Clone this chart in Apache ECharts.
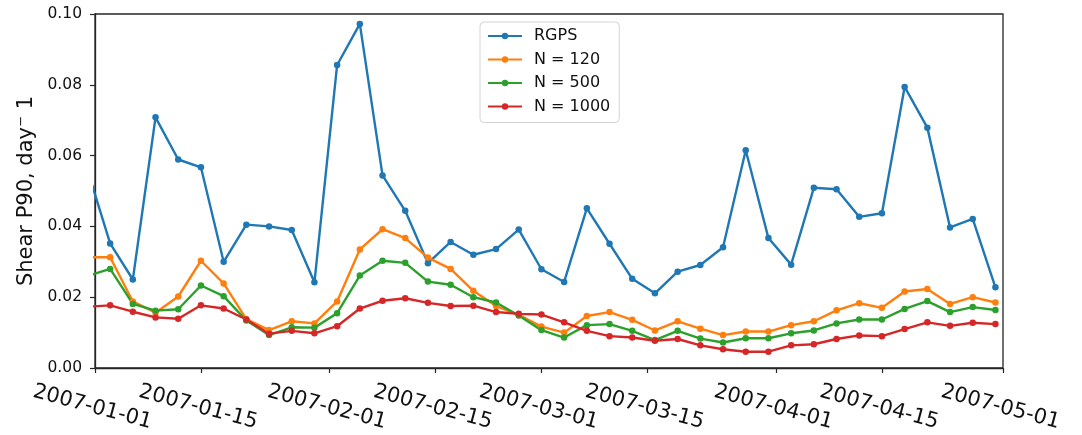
<!DOCTYPE html>
<html>
<head>
<meta charset="utf-8">
<script src="https://cdn.jsdelivr.net/npm/echarts@6/dist/echarts.min.js"></script>
<style>
  html, body { margin: 0; padding: 0; background: #fff; }
  #chart { width: 1082px; height: 435px; }
</style>
</head>
<body>
<div id="chart"></div>
<script>
// sample dates, one every 3 days (the first one falls just left of the frame)
const dates = [
  '2006-12-31', '2007-01-03', '2007-01-06', '2007-01-09', '2007-01-12', '2007-01-15',
  '2007-01-18', '2007-01-21', '2007-01-24', '2007-01-27', '2007-01-30', '2007-02-02',
  '2007-02-05', '2007-02-08', '2007-02-11', '2007-02-14', '2007-02-17', '2007-02-20',
  '2007-02-23', '2007-02-26', '2007-03-01', '2007-03-04', '2007-03-07', '2007-03-10',
  '2007-03-13', '2007-03-16', '2007-03-19', '2007-03-22', '2007-03-25', '2007-03-28',
  '2007-03-31', '2007-04-03', '2007-04-06', '2007-04-09', '2007-04-12', '2007-04-15',
  '2007-04-18', '2007-04-21', '2007-04-24', '2007-04-27', '2007-04-30'
];

const rgps = [
  0.056, 0.0352, 0.0250, 0.0708, 0.0589, 0.0567, 0.0300, 0.0405, 0.0400, 0.0390, 0.0242,
  0.0856, 0.0972, 0.0544, 0.0444, 0.0296, 0.0356, 0.0320, 0.0336, 0.0391, 0.0279,
  0.0243, 0.0451, 0.0351, 0.0252, 0.0211, 0.0272, 0.0291, 0.0341, 0.0615, 0.0367,
  0.0292, 0.0509, 0.0505, 0.0427, 0.0437, 0.0794, 0.0679, 0.0397, 0.0421, 0.0228
];
const n120 = [
  0.0313, 0.0313, 0.0188, 0.0156, 0.0202, 0.0303, 0.0239, 0.0138, 0.0107, 0.0132, 0.0126,
  0.0188, 0.0335, 0.0392, 0.0367, 0.0312, 0.0280, 0.0218, 0.0175, 0.0150, 0.0117,
  0.0100, 0.0147, 0.0158, 0.0136, 0.0106, 0.0132, 0.0111, 0.0093, 0.0103, 0.0103,
  0.0121, 0.0132, 0.0163, 0.0183, 0.0170, 0.0216, 0.0223, 0.0181, 0.0200, 0.0185
];
const n500 = [
  0.0260, 0.0280, 0.0181, 0.0162, 0.0166, 0.0233, 0.0203, 0.0134, 0.0093, 0.0115, 0.0114,
  0.0155, 0.0261, 0.0303, 0.0297, 0.0244, 0.0235, 0.0200, 0.0185, 0.0148, 0.0107,
  0.0086, 0.0121, 0.0124, 0.0105, 0.0079, 0.0105, 0.0083, 0.0072, 0.0084, 0.0084,
  0.0098, 0.0106, 0.0126, 0.0137, 0.0137, 0.0167, 0.0189, 0.0158, 0.0172, 0.0164
];
const n1000 = [
  0.0173, 0.0177, 0.0159, 0.0143, 0.0139, 0.0177, 0.0168, 0.0137, 0.0097, 0.0105, 0.0098,
  0.0118, 0.0168, 0.0190, 0.0197, 0.0184, 0.0175, 0.0176, 0.0158, 0.0153, 0.0151,
  0.0129, 0.0105, 0.0090, 0.0086, 0.0077, 0.0082, 0.0064, 0.0053, 0.0046, 0.0046,
  0.0064, 0.0067, 0.0082, 0.0092, 0.0090, 0.0110, 0.0129, 0.0119, 0.0128, 0.0124
];

const xTicks = [
  '2007-01-01', '2007-01-15', '2007-02-01', '2007-02-15', '2007-03-01',
  '2007-03-15', '2007-04-01', '2007-04-15', '2007-05-01'
];

const seriesNames = ['RGPS', 'N = 120', 'N = 500', 'N = 1000'];
const colors = ['#1f77b4', '#ff7f0e', '#2ca02c', '#d62728'];

function toTime(s) {
  const p = s.split('-').map(Number);
  return new Date(p[0], p[1] - 1, p[2]).getTime();
}
function pad(n) { return (n < 10 ? '0' : '') + n; }
function fmtDate(v) {
  const d = new Date(v);
  return d.getFullYear() + '-' + pad(d.getMonth() + 1) + '-' + pad(d.getDate());
}

const tickTimes = xTicks.map(toTime);
const frame = '#262626';
const font = 'DejaVu Sans';

const chart = echarts.init(document.getElementById('chart'));

chart.setOption({
  animation: false,
  color: colors,
  textStyle: {fontFamily: font},
  grid: {
    left: 95, right: 79, top: 14, bottom: 67,
    show: true, borderColor: frame, borderWidth: 1.3,
    outerBoundsMode: 'none'
  },
  legend: {
    orient: 'vertical',
    left: 480, top: 22,
    padding: [5, 9, 7, 7],
    backgroundColor: 'rgba(255,255,255,0.8)',
    borderColor: '#d4d4d4', borderWidth: 1, borderRadius: 4,
    itemWidth: 34, itemHeight: 8, itemGap: 5.5,
    textStyle: {fontFamily: font, fontSize: 16, color: '#111', lineHeight: 18, padding: [0, 0, 0, 7]},
    data: seriesNames
  },
  // dates are plotted as plain millisecond numbers so the ticks can sit on 1st / 15th
  xAxis: {
    type: 'value',
    min: tickTimes[0],
    max: tickTimes[tickTimes.length - 1],
    scale: true,
    splitLine: {show: false},
    axisLine: {show: true, onZero: false, lineStyle: {color: frame, width: 1.3}},
    axisTick: {show: true, length: 5, lineStyle: {color: frame, width: 1.2}, customValues: tickTimes},
    axisLabel: {
      customValues: tickTimes,
      formatter: fmtDate,
      rotate: -15,
      align: 'center',
      verticalAlign: 'top',
      margin: 29,
      fontSize: 21,
      fontFamily: font,
      color: '#111',
      showMinLabel: true,
      showMaxLabel: true,
      hideOverlap: false
    }
  },
  yAxis: {
    type: 'value',
    min: 0, max: 0.1, interval: 0.02,
    name: 'Shear P90, day\u207B 1',
    nameLocation: 'middle',
    nameGap: 55,
    nameTextStyle: {fontSize: 21, fontFamily: font, color: '#111'},
    splitLine: {show: false},
    axisLine: {show: true, lineStyle: {color: frame, width: 1.3}},
    axisTick: {show: true, length: 5, lineStyle: {color: frame, width: 1.2}},
    axisLabel: {
      formatter: v => v.toFixed(2),
      margin: 13,
      fontSize: 15.5,
      fontFamily: font,
      color: '#111'
    }
  },
  series: [rgps, n120, n500, n1000].map((vals, i) => ({
    name: seriesNames[i],
    type: 'line',
    clip: true,
    symbol: 'circle',
    symbolSize: 6.5,
    showSymbol: true,
    lineStyle: {width: 2.4, color: colors[i]},
    itemStyle: {color: colors[i]},
    emphasis: {disabled: true},
    data: dates.map((d, j) => [toTime(d), vals[j]])
  }))
});
</script>
</body>
</html>
